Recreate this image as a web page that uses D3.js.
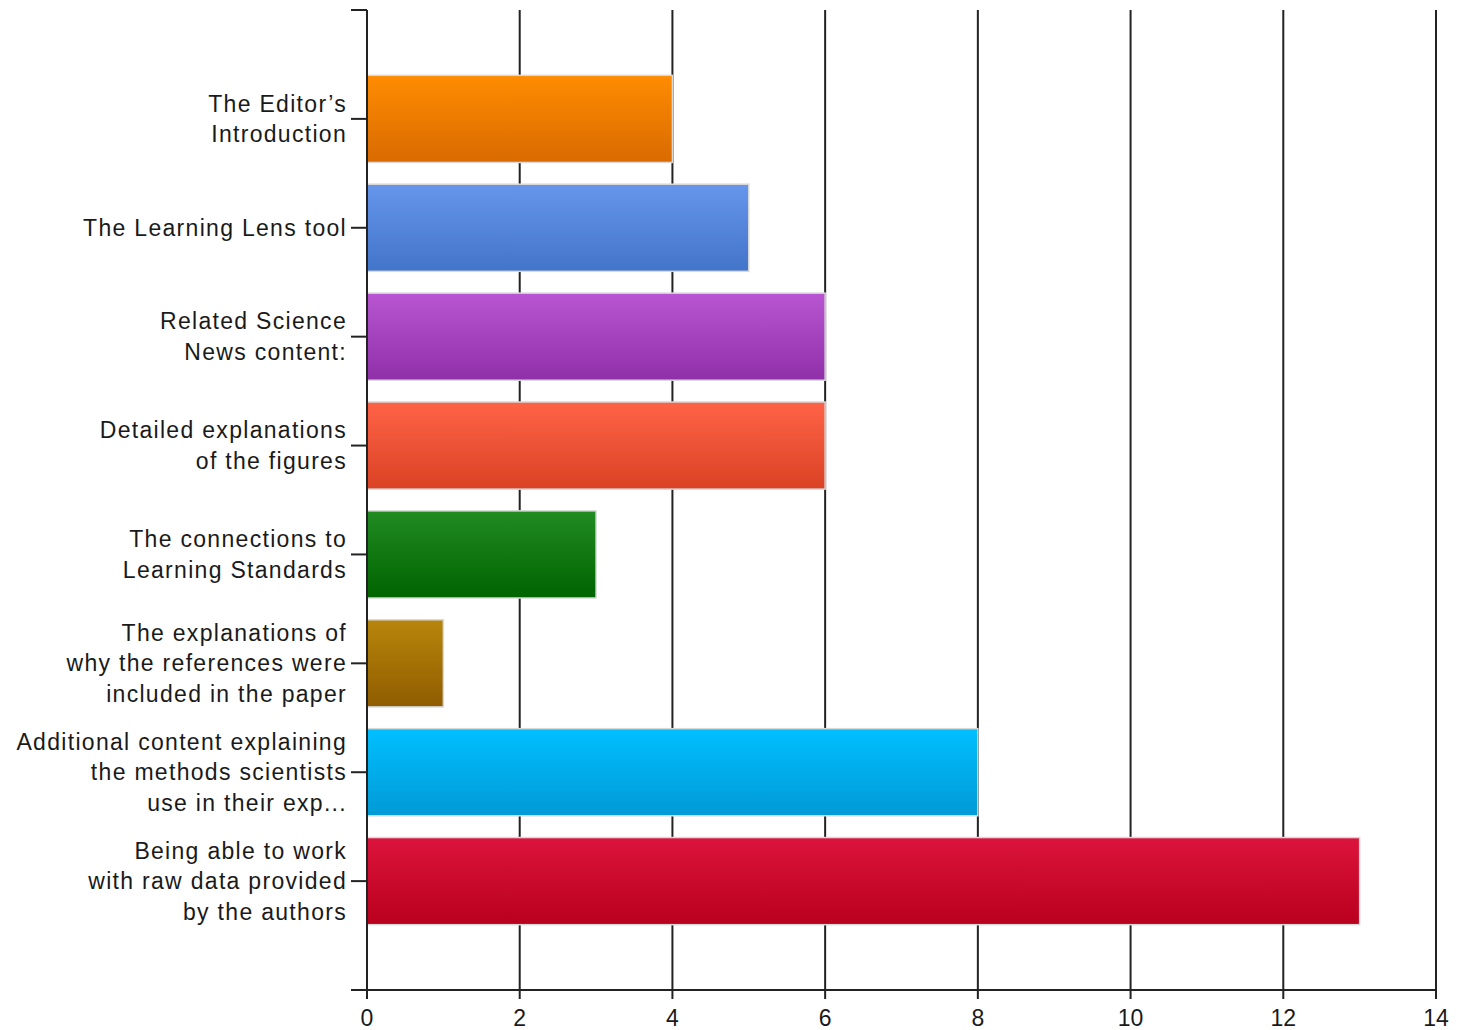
<!DOCTYPE html>
<html>
<head>
<meta charset="utf-8">
<script src="https://cdn.jsdelivr.net/npm/d3@7"></script>
<style>
    body { margin: 0; background: #fff; }
    svg { display: block; font-family: "Liberation Sans", Arial, sans-serif; }
</style>
</head>
<body>
<svg id="chart"></svg>
<script>
// data
const categories = [
    ["The Editor\u2019s", "Introduction"],
    ["The Learning Lens tool"],
    ["Related Science", "News content:"],
    ["Detailed explanations", "of the figures"],
    ["The connections to", "Learning Standards"],
    ["The explanations of", "why the references were", "included in the paper"],
    ["Additional content explaining", "the methods scientists", "use in their exp..."],
    ["Being able to work", "with raw data provided", "by the authors"]
];
const values = [4, 5, 6, 6, 3, 1, 8, 13];
const xTicks = [0, 2, 4, 6, 8, 10, 12, 14];
const topColors = ["#ff8c00", "#6596ec", "#b955d2", "#ff6347", "#228b22", "#b8860b", "#00bfff", "#dc143c"];
const bottomColors = ["#d96a00", "#4274c9", "#9030a9", "#da4224", "#006400", "#8f5c00", "#009ad6", "#b9001d"];

class SurveyBars {

    constructor(el) {
        this.el = d3.select(el);
    }

    draw() {
        const width = 1459, height = 1030;
        const margin = {top: 10, right: 23, bottom: 40, left: 367};
        const innerW = width - margin.left - margin.right,
            innerH = height - margin.top - margin.bottom;

        const svg = this.el.attr("width", width).attr("height", height);
        const g = svg.append("g")
            .attr("transform", "translate(" + margin.left + "," + margin.top + ")");

        this.x = d3.scaleLinear().domain([0, 14]).range([0, innerW]);
        this.y = d3.scalePoint().domain(d3.range(categories.length)).range([0, innerH]).padding(1);
        const barH = this.y.step() * 0.8;

        // gradients for each bar
        const defs = svg.append("defs");
        values.forEach((v, i) => {
            const grad = defs.append("linearGradient")
                .attr("id", "grad" + i)
                .attr("x1", 0).attr("y1", 0).attr("x2", 0).attr("y2", 1);
            grad.append("stop").attr("offset", "0%").attr("stop-color", topColors[i]);
            grad.append("stop").attr("offset", "100%").attr("stop-color", bottomColors[i]);
        });

        // vertical grid lines
        g.append("g")
            .selectAll("line")
            .data(xTicks.slice(1))
            .join("line")
            .attr("x1", d => this.x(d)).attr("x2", d => this.x(d))
            .attr("y1", 0).attr("y2", innerH)
            .attr("stroke", "#222")
            .attr("stroke-width", 2);

        // bars
        g.append("g")
            .selectAll("rect")
            .data(values)
            .join("rect")
            .attr("x", this.x(0))
            .attr("y", (d, i) => this.y(i) - barH / 2)
            .attr("width", d => this.x(d) - this.x(0))
            .attr("height", barH)
            .attr("fill", (d, i) => "url(#grad" + i + ")")
            .attr("stroke", "#d8d8d8")
            .attr("stroke-width", 1.5);

        // y axis
        const yAxis = g.append("g");
        yAxis.append("line")
            .attr("x1", 0).attr("x2", 0).attr("y1", 0).attr("y2", innerH)
            .attr("stroke", "#222").attr("stroke-width", 2);
        yAxis.append("line")
            .attr("x1", -16).attr("x2", 0).attr("y1", 0).attr("y2", 0)
            .attr("stroke", "#222").attr("stroke-width", 2);
        const cats = yAxis.selectAll(".cat")
            .data(categories)
            .join("g")
            .attr("class", "cat")
            .attr("transform", (d, i) => "translate(0," + this.y(i) + ")");
        cats.append("line")
            .attr("x1", -16).attr("x2", 0)
            .attr("stroke", "#222").attr("stroke-width", 2);
        cats.append("text")
            .attr("text-anchor", "end")
            .attr("font-size", "23px")
            .attr("letter-spacing", "1.3px")
            .attr("fill", "#1a1a1a")
            .selectAll("tspan")
            .data(d => d.map((line, j) => ({line, j, n: d.length})))
            .join("tspan")
            .attr("x", -20)
            .attr("y", d => (d.j - (d.n - 1) / 2) * 30.5)
            .attr("dy", "0.35em")
            .text(d => d.line);

        // x axis
        const xAxis = g.append("g").attr("transform", "translate(0," + innerH + ")");
        xAxis.append("line")
            .attr("x1", -16).attr("x2", innerW)
            .attr("stroke", "#222").attr("stroke-width", 2);
        const ticks = xAxis.selectAll(".tick")
            .data(xTicks)
            .join("g")
            .attr("class", "tick")
            .attr("transform", d => "translate(" + this.x(d) + ",0)");
        ticks.append("line")
            .attr("y1", 0).attr("y2", 9)
            .attr("stroke", "#222").attr("stroke-width", 2);
        ticks.append("text")
            .attr("y", 28)
            .attr("dy", "0.35em")
            .attr("text-anchor", "middle")
            .attr("font-size", "23px")
            .attr("fill", "#1a1a1a")
            .text(d => d);
    }
}

new SurveyBars("#chart").draw();
</script>
</body>
</html>
